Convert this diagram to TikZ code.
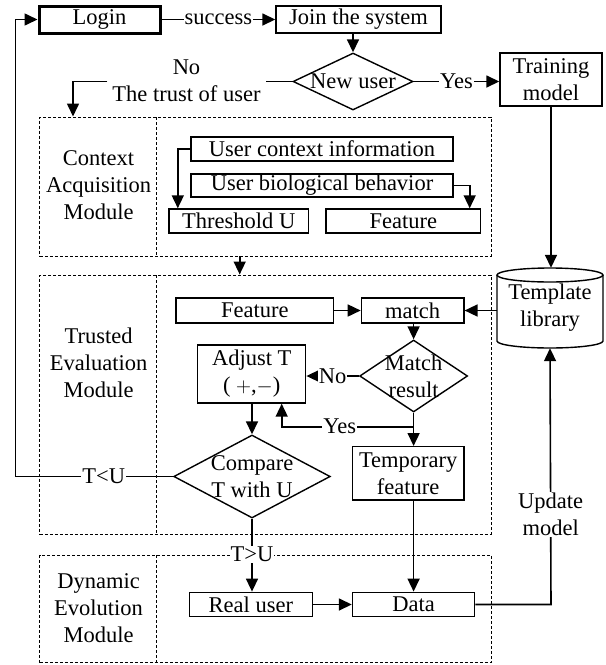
\documentclass[tikz,border=0pt]{standalone}
\usepackage{fontspec}
\setmainfont{Liberation Serif}
\usetikzlibrary{shapes.geometric,arrows.meta}
\begin{document}
\begin{tikzpicture}[x=1pt,y=-1pt,
  font=\fontsize{22.5}{27}\selectfont,
  box/.style={draw, line width=1.4pt, inner sep=0pt, align=center},
  dia/.style={draw, diamond, line width=1.4pt, inner sep=0pt},
  dbox/.style={draw, line width=1pt, dash pattern=on 3pt off 2pt, inner sep=0pt},
  arr/.style={line width=1.6pt, -{Triangle[length=13pt,width=12pt]}},
  ln/.style={line width=1.6pt},
  lab/.style={fill=white, inner sep=1pt, align=center},
  mod/.style={align=center}]
\useasboundingbox (0,0) rectangle (606,665);

% module frames
\node[dbox, minimum width=451.2pt, minimum height=139pt] (ctx) at (265.4,186.5) {};
\draw[dbox] (156.5,117) -- (156.5,256);
\node[dbox, minimum width=451.2pt, minimum height=259pt] (trust) at (265.4,404.5) {};
\draw[dbox] (156.5,275) -- (156.5,534);
\node[dbox, minimum width=451.2pt, minimum height=107.7pt] (dyn) at (265.4,608.85) {};
\draw[dbox] (156.5,555) -- (156.5,662.7);

\node[mod] (ctxlab) at (98.6,185) {Context\\Acquisition\\Module};
\node[mod] (trustlab2) at (98.6,363) {Trusted\\Evaluation\\Module};
\node[mod] (dynlab) at (98.6,608) {Dynamic\\Evolution\\Module};

% top part
\node[box, line width=3pt, minimum width=121pt, minimum height=27pt] (login) at (99.5,19.5) {Login};
\node[box, minimum width=165pt, minimum height=27pt] (join) at (358.5,19.5) {Join the system};
\node[dia, minimum width=120pt, minimum height=57pt] (newuser) at (353,81.5) {};
\node (newusert) at (newuser) {New user};
\node[box, minimum width=102pt, minimum height=53pt] (train) at (551,79.5) {Training\\model};

\draw[arr] (login) -- node[lab]{success} (join);
\draw[arr] (newuser.north |- join.south) -- (newuser.north);
\draw[arr] (newuser.east) -- node[lab]{Yes} (newuser.east -| train.west);

\node[lab, inner xsep=5pt] (trustlab) at (186.5,80.5) {No\\The trust of user};
\coordinate (tc) at (73,81.5);
\draw[ln] (newuser.west) -- (newuser.west -| trustlab.east);
\draw[arr] (tc -| trustlab.west) -- (tc) -- (tc |- ctx.north);

% context acquisition
\node[box, minimum width=262pt, minimum height=24pt] (uci) at (322,149) {User context information};
\node[box, minimum width=262pt, minimum height=23pt] (ubb) at (322,185.5) {User biological behavior};
\node[box, minimum width=139.5pt, minimum height=24pt] (thr) at (238.75,221) {Threshold U};
\node[box, minimum width=154.5pt, minimum height=24pt] (feat1) at (403.25,221) {Feature};
\coordinate (c1) at (177.8,149);
\draw[arr] (uci.west) -- (c1) -- (c1 |- thr.north);
\coordinate (c2) at (469.7,185.5);
\draw[arr] (ubb.east) -- (c2) -- (c2 |- feat1.north);
\coordinate (c3) at (239.7,256);
\draw[arr] (c3) -- (c3 |- trust.north);

% template library
\node[minimum width=106pt, minimum height=80pt, inner sep=0pt, align=center] (tpl) at (550,308) {Template\\library};
\draw[line width=1.4pt] (497,275) -- (497,341) arc[start angle=180, end angle=360, x radius=53pt, y radius=7pt] -- (603,275);
\draw[line width=1.4pt] (550,275) ellipse [x radius=53pt, y radius=7pt];
\draw[arr] (train.south) -- (train.south |- tpl.north);

% trusted evaluation
\node[box, minimum width=157.6pt, minimum height=25pt] (feat2) at (254.8,310.5) {Feature};
\node[box, minimum width=102.5pt, minimum height=25pt] (match) at (412.65,310.5) {match};
\node[dia, minimum width=108pt, minimum height=72pt] (mres) at (413.6,376) {};
\node[align=center] (mrest) at (mres) {Match\\result};
\node[box, minimum width=108pt, minimum height=58pt] (adj) at (251.7,374) {Adjust T\\( $+$,$-$)};
\node[dia, minimum width=156.5pt, minimum height=83pt] (cmp) at (252,476.5) {};
\node[align=center] (cmpt) at (cmp) {Compare\\T with U};
\node[box, minimum width=111.4pt, minimum height=53.3pt] (temp) at (408.2,473.35) {Temporary\\feature};

\draw[arr] (feat2) -- (match);
\draw[arr] (tpl.west |- match) -- (match.east);
\draw[arr] (mres.north |- match.south) -- (mres.north);
\draw[arr] (mres.west) -- node[lab]{No} (mres.west -| adj.east);
\draw[arr] (mres.south) -- (mres.south |- temp.north);
\coordinate (yj) at (413.6,426.7);
\coordinate (yc) at (281.7,426.7);
\draw[arr] (yj) -- node[lab,pos=0.56]{Yes} (yc) -- (yc |- adj.south);
\draw[arr] (cmp.north |- adj.south) -- (cmp.north);

\coordinate (lb) at (15.5,476.5);
\coordinate (lt) at (15.5,19.5);
\draw[arr] (cmp.west) -- node[lab,pos=0.44]{T<U} (lb) -- (lt) -- (login.west);

% dynamic evolution
\node[box, minimum width=122.9pt, minimum height=24.4pt] (real) at (250.85,604.5) {Real user};
\node[box, minimum width=122.2pt, minimum height=24.4pt] (data) at (413.6,604.5) {Data};
\draw[arr] (cmp.south) -- node[lab,pos=0.49]{T>U} (cmp.south |- real.north);
\draw[arr] (data.north |- temp.south) -- (data.north);
\draw[arr] (real) -- (data);
\coordinate (dc) at (551,604.5);
\draw[arr] (data.east) -- (dc) -- node[lab,pos=0.35]{Update\\model} (tpl.south);
\end{tikzpicture}
\end{document}
